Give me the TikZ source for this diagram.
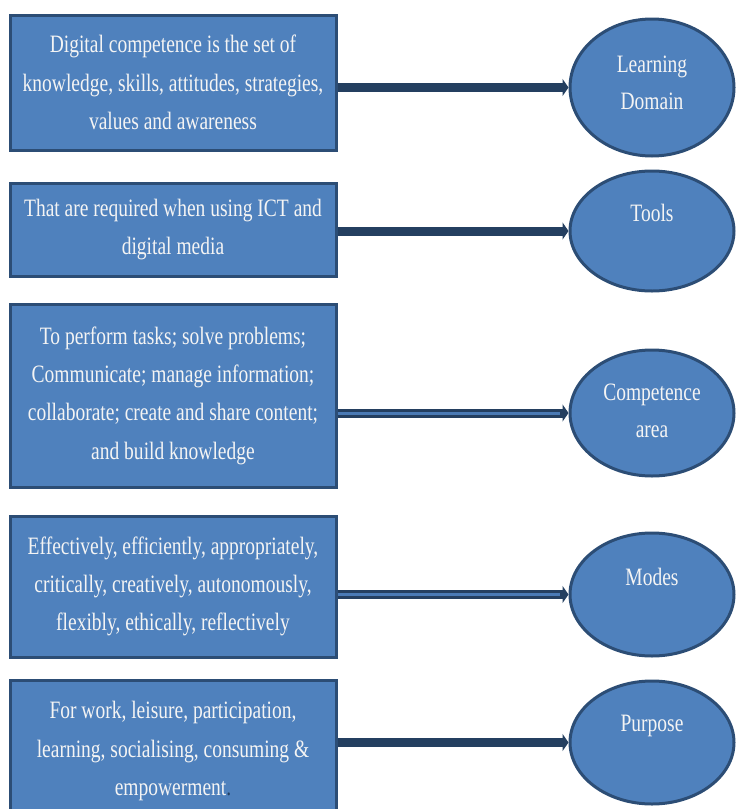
\documentclass[tikz,border=0pt]{standalone}
\usepackage{fontspec}
\setmainfont{Liberation Serif}[FakeStretch=0.78]
\usetikzlibrary{shapes.geometric,arrows.meta}
\definecolor{fillblue}{HTML}{4F81BD}
\definecolor{edgeblue}{HTML}{2C4D75}
\definecolor{linkblue}{HTML}{243F60}
\definecolor{innerblue}{HTML}{4A7AB5}
\definecolor{txt}{HTML}{F4F4F4}
\pgfdeclarelayer{back}
\pgfsetlayers{back,main}
\begin{document}
\begin{tikzpicture}[x=1pt,y=-1pt,
  boxnode/.style={draw=edgeblue, line width=3pt, fill=fillblue, text=txt,
    minimum width=326pt, align=center, inner sep=0pt,
    font=\fontsize{25}{38.3}\selectfont},
  ovalnode/.style={ellipse, draw=edgeblue, line width=3pt, fill=fillblue,
    minimum width=164pt, inner sep=0pt},
  ovaltext/.style={text=txt, align=center, inner sep=0pt,
    font=\fontsize{25}{37}\selectfont},
  link/.style={draw=linkblue, line width=9pt, -{Triangle[length=6pt,width=17pt]}},
  innerlink/.style={draw=innerblue, line width=3pt},
]
\useasboundingbox (0,0) rectangle (737,809);
\clip (0,0) rectangle (737,809);

% boxes
\node[boxnode, minimum height=135pt] (b1) at (173,82.5)
  {Digital competence is the set of\\knowledge, skills, attitudes, strategies,\\values and awareness};
\node[boxnode, minimum height=93pt] (b2) at (173,229.5)
  {That are required when using ICT and\\digital media};
\node[boxnode, minimum height=183pt] (b3) at (173,395.5)
  {To perform tasks; solve problems;\\Communicate; manage information;\\collaborate; create and share content;\\and build knowledge};
\node[boxnode, minimum height=141pt] (b4) at (173,586.5)
  {Effectively, efficiently, appropriately,\\critically, creatively, autonomously,\\flexibly, ethically, reflectively};
\node[boxnode, minimum height=142pt] (b5) at (173,751)
  {For work, leisure, participation,\\learning, socialising, consuming \&\\empowerment{\color{linkblue}.}};

% ellipses
\node[ovalnode, minimum height=137pt] (e1) at (652,87.5) {};
\node[ovalnode, minimum height=120pt] (e2) at (652,231) {};
\node[ovalnode, minimum height=126pt] (e3) at (652,413) {};
\node[ovalnode, minimum height=123pt] (e4) at (652,594.5) {};
\node[ovalnode, minimum height=123pt] (e5) at (652,742.5) {};

\node[ovaltext] (t1) at (652,82.5) {Learning\\Domain};
\node[ovaltext, anchor=base] (t2) at (652,221.7) {Tools};
\node[ovaltext] (t3) at (652,410.5) {Competence\\area};
\node[ovaltext, anchor=base] (t4) at (652,585) {Modes};
\node[ovaltext, anchor=base] (t5) at (652,731.7) {Purpose};

% connectors
\begin{pgfonlayer}{back}
\fill[white] (0,0) rectangle (737,809);
\draw[link] (e1.west -| b1.east) -- (e1.west);
\draw[link] (e2.west -| b2.east) -- (e2.west);
\draw[link] (e3.west -| b3.east) -- (e3.west);
\draw[innerlink] (e3.west -| b3.east) -- ([xshift=-9pt]e3.west);
\draw[link] (e4.west -| b4.east) -- (e4.west);
\draw[innerlink] (e4.west -| b4.east) -- ([xshift=-9pt]e4.west);
\draw[link] (e5.west -| b5.east) -- (e5.west);
\end{pgfonlayer}
\end{tikzpicture}
\end{document}
